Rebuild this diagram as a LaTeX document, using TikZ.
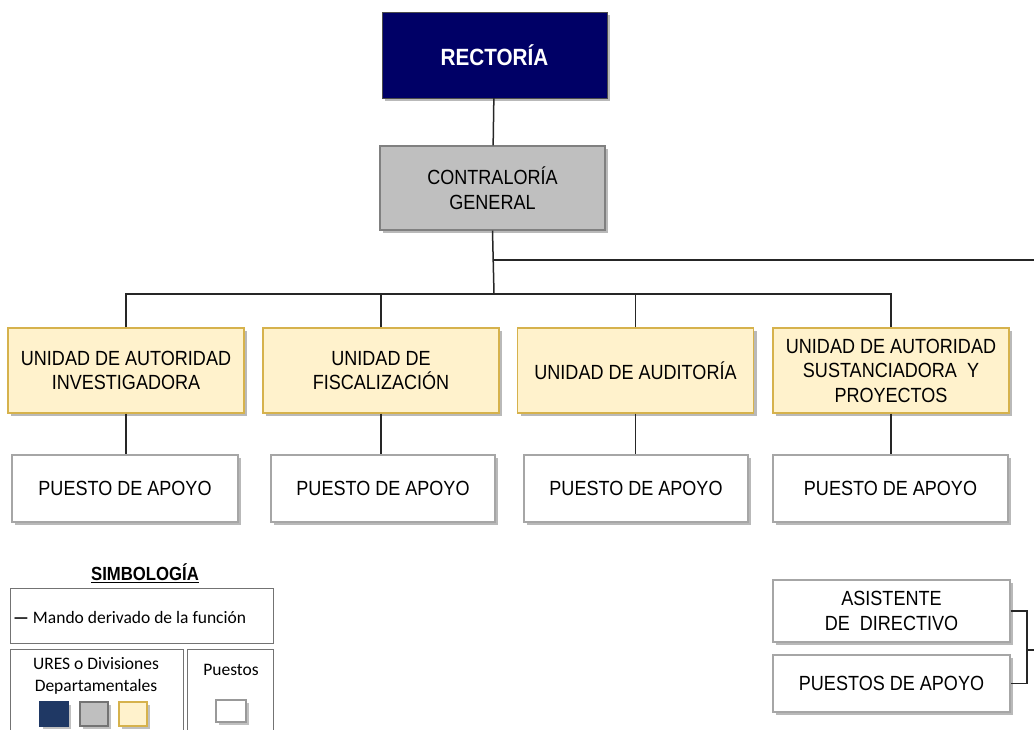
\documentclass[tikz,border=0pt]{standalone}
\usepackage{fontspec}
\setmainfont[FakeStretch=0.88]{Liberation Sans}
\newfontfamily\legendfont{Carlito}
\usetikzlibrary{shadows}
\definecolor{navy}{HTML}{000066}
\definecolor{legnavy}{HTML}{1F3864}
\definecolor{unitfill}{HTML}{FFF2CC}
\definecolor{unitline}{HTML}{D6B24C}
\definecolor{cgfill}{HTML}{BFBFBF}
\begin{document}
\begin{tikzpicture}[x=1pt, y=-1pt,
  box/.style={draw, align=center, inner sep=2pt, font=\fontsize{20.5}{24.5}\selectfont,
    drop shadow={shadow xshift=3pt, shadow yshift=-3pt, fill=black!55, opacity=0.5}},
  unit/.style={box, fill=unitfill, draw=unitline, line width=1.4pt, minimum width=236pt, minimum height=85pt},
  post/.style={box, fill=white, draw=black!35, line width=1.2pt, minimum height=67pt},
  swatch/.style={draw, line width=1.4pt, minimum width=28pt, minimum height=24pt, inner sep=0pt,
    drop shadow={shadow xshift=2.5pt, shadow yshift=-2.5pt, fill=black!55, opacity=0.45}},
  legbox/.style={draw=black!55, line width=1pt},
  link/.style={draw=black!85, line width=1.5pt}]
  \useasboundingbox (0,0) rectangle (1034,730);

  % top
  \node[box, fill=navy, draw=black!70, text=white, font=\fontsize{23.5}{26}\selectfont\bfseries,
    minimum width=225pt, minimum height=86pt] (rec) at (494.5,55) {RECTORÍA};
  \node[box, fill=cgfill, draw=black!50, line width=1.2pt, minimum width=225pt, minimum height=84pt]
    (cg) at (492.5,188) {CONTRALORÍA\\GENERAL};

  % units
  \node[unit] (u1) at (126,370.5) {UNIDAD DE AUTORIDAD\\INVESTIGADORA};
  \node[unit] (u2) at (381,370.5) {UNIDAD DE\\FISCALIZACIÓN};
  \node[unit] (u3) at (635.5,370.5) {UNIDAD DE AUDITORÍA};
  \node[unit] (u4) at (891,370.5) {UNIDAD DE AUTORIDAD\\SUSTANCIADORA\ \ Y\\PROYECTOS};

  \node[post, minimum width=226pt] (p1) at (125,488.5) {PUESTO DE APOYO};
  \node[post, minimum width=224pt] (p2) at (383,488.5) {PUESTO DE APOYO};
  \node[post, minimum width=224pt] (p3) at (636,488.5) {PUESTO DE APOYO};
  \node[post, minimum width=235pt] (p4) at (890.5,488.5) {PUESTO DE APOYO};

  \node[post, minimum width=237pt, minimum height=62pt] (asis) at (891.5,611) {ASISTENTE\\DE\ \ DIRECTIVO};
  \node[post, minimum width=237pt, minimum height=57pt] (pda) at (891.5,683.5) {PUESTOS DE APOYO};

  % connectors
  \coordinate (bus) at (494,294);
  \coordinate (edge) at (1034,260);
  \coordinate (brk) at (1027,650);
  \coordinate (edge2) at (1034,650);
  \draw[link] (rec) -- (cg);
  \draw[link] (cg.south) -- (bus);
  \draw[link] (cg.south |- edge) -- (edge);
  \draw[link] (u1.north) |- (bus) -| (u4.north);
  \draw[link] (u2.north) -- (u2.north |- bus);
  \draw[link] (u3.north) -- (u3.north |- bus);
  \foreach \i in {1,...,4}
    \draw[link] (u\i.south) -- (u\i.south |- p\i.north);
  \draw[link] (asis.east) -| (brk) |- (pda.east);
  \draw[link] (brk) -- (edge2);

  % legend
  \node[font=\fontsize{19}{20}\selectfont\bfseries] (simb) at (145,573) {\underline{SIMBOLOGÍA}};
  \draw[legbox] (10,588) rectangle (273,643);
  \draw[legbox] (10,649) rectangle (183,740);
  \draw[legbox] (187,649) rectangle (273,740);
  \node[anchor=west, inner sep=0pt, font=\legendfont\fontsize{17.5}{20}\selectfont] (mando) at (13,617)
    {\textbf{—} Mando derivado de la función};
  \node[align=center, font=\legendfont\fontsize{17.5}{22}\selectfont] (ures) at (96,676)
    {URES o Divisiones\\Departamentales};
  \node[font=\legendfont\fontsize{17.5}{20}\selectfont] (pst) at (231,670) {Puestos};
  \node[swatch, fill=legnavy, draw=legnavy] (s1) at (54,714) {};
  \node[swatch, fill=cgfill, draw=black!55] (s2) at (94,714) {};
  \node[swatch, fill=unitfill, draw=unitline] (s3) at (133,714) {};
  \node[swatch, fill=white, draw=black!40, minimum width=30pt, minimum height=22pt] (s4) at (231,711) {};
\end{tikzpicture}
\end{document}
